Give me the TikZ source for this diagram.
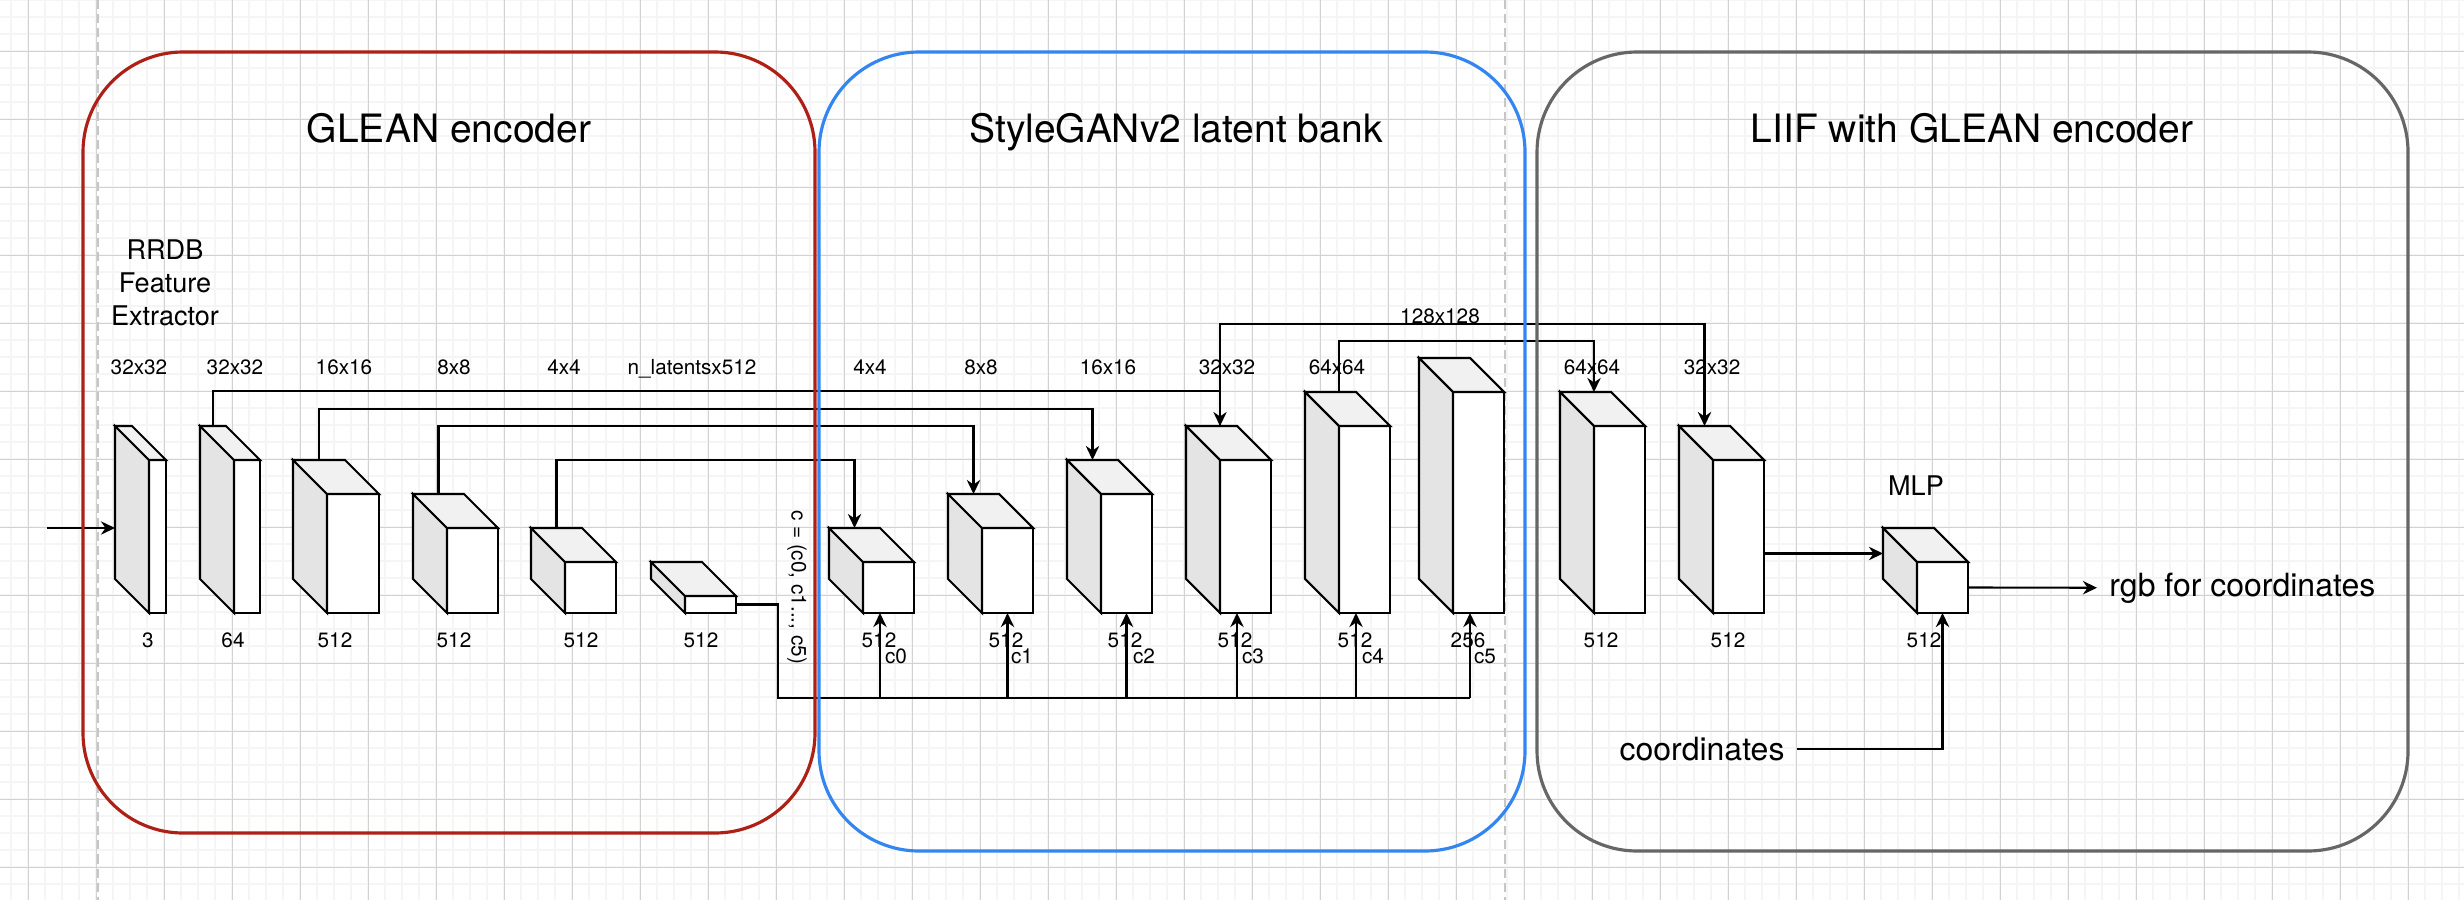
\documentclass[tikz,border=0pt]{standalone}
\usepackage{fontspec}
\setmainfont{TeX Gyre Heros}
\usepackage{xcolor}
\usetikzlibrary{arrows.meta,calc,positioning}
\definecolor{encred}{RGB}{174,32,22}
\definecolor{bankblue}{RGB}{51,133,240}
\definecolor{liifgray}{RGB}{102,102,102}
\definecolor{sidegray}{RGB}{228,228,228}
\definecolor{topgray}{RGB}{241,241,241}
\tikzset{
  gridmin/.style={line width=0.55pt, gray!8},
  gridmaj/.style={line width=0.35pt, gray!35},
  pagebreak/.style={line width=0.5pt, gray!45, dash pattern=on 0.09cm off 0.05cm},
  grp/.style={line width=0.9pt, rounded corners=1cm},
  fmface/.style={draw, fill=white, line width=0.6pt, inner sep=0pt, outer sep=0pt, anchor=south west},
  fmside/.style={draw, fill=sidegray, line width=0.6pt},
  fmtop/.style={draw, fill=topgray, line width=0.6pt},
  wire/.style={line width=0.6pt},
  lbl/.style={font=\fontsize{5.9pt}{7pt}\selectfont, inner sep=0pt, anchor=base},
  ttl/.style={font=\fontsize{11.1pt}{13pt}\selectfont, inner sep=0pt, anchor=base},
  mid/.style={font=\fontsize{7.7pt}{9.3pt}\selectfont, inner sep=0pt},
  big/.style={font=\fontsize{9.1pt}{11pt}\selectfont}
}
% feature map cuboid: name, x of front face, width, height (px, bottom at 613)
\newcommand{\fmap}[4]{
  \node[fmface, minimum width=#3*0.01cm, minimum height=#4*0.01cm] (#1) at (#2,613) {};
  \draw[fmside] (#1.north west) -- (#1.south west) -- ++(-34,-34) -- ([shift={(-34,-34)}]#1.north west) -- cycle;
  \draw[fmtop] (#1.north west) -- ++(-34,-34) -- ([shift={(-34,-34)}]#1.north east) -- (#1.north east) -- cycle;
  \coordinate (#1-t) at ([shift={(-34,-34)}]#1.north);
  \coordinate (#1-s) at ([shift={(-34,-34)}]#1.west);
}

\begin{document}
\begin{tikzpicture}[>={Stealth[length=4pt,width=3.8pt]}, x=0.01cm, y=-0.01cm]
  \useasboundingbox (0,0) rectangle (2464,900);
  \fill[white] (0,0) rectangle (2464,900);
  % background grid
  \foreach \i in {0,...,144} \draw[gridmin] (11.3+17*\i,0) -- (11.3+17*\i,900);
  \foreach \j in {0,...,52} \draw[gridmin] (0,0.3+17*\j) -- (2464,0.3+17*\j);
  \foreach \i in {0,...,36} \draw[gridmaj] (28.3+68*\i,0) -- (28.3+68*\i,900);
  \foreach \j in {0,...,13} \draw[gridmaj] (0,51.3+68*\j) -- (2464,51.3+68*\j);
  \foreach \x in {98,1505} \draw[pagebreak] (\x,0) -- (\x,900);

  % encoder
  \fmap{b1}{149}{17}{153}
  \fmap{b2}{234}{26}{153}
  \fmap{b3}{327}{52}{119}
  \fmap{b4}{447}{51}{85}
  \fmap{b5}{565}{51}{51}
  \fmap{b6}{685}{51}{17}
  % latent bank
  \fmap{c0}{863}{51}{51}
  \fmap{c1}{982}{51}{85}
  \fmap{c2}{1101}{51}{119}
  \fmap{c3}{1220}{51}{153}
  \fmap{c4}{1339}{51}{187}
  \fmap{c5}{1453}{51}{221}
  % liif
  \fmap{l1}{1594}{51}{187}
  \fmap{l2}{1713}{51}{153}
  \fmap{mlp}{1917}{51}{51}

  \coordinate (in) at (47,528);
  \coordinate (bus) at (778,698);
  \coordinate (busend) at ($(c5.south west |- bus)+(17,0)$);
  \node[big, anchor=west] (rgb) at (2097,588) {rgb for coordinates};
  \node[big] (coord) at (1702,749) {coordinates};

  \draw[wire, ->] (in) -- (in -| b1-s);
  \draw[wire, ->] (b2-t) -- ++(0,-35) -| (c3.north west |- c3-t);
  \draw[wire, ->] (b3-t) -- ++(0,-51) -| (c2-t);
  \draw[wire, ->] (b4-t) -- ++(0,-68) -| (c1-t);
  \draw[wire, ->] (b5-t) -- ++(0,-68) -| (c0-t);
  \draw[wire, ->] (c3.north west |- c3-t) -- ++(0,-102) -| (l2-t);
  \draw[wire, ->] (c4.north west |- c4-t) -- ++(0,-51) -| (l1.north west |- l1-t);
  \draw[wire] (b6.east) -| (bus) -- (busend);
  \foreach \n/\d in {c0/17, c1/25.5, c2/25.5, c3/17, c4/17, c5/17}
    \draw[wire, ->] ($(\n.south west |- bus)+(\d,0)$) -- ($(\n.south west)+(\d,0)$);
  \draw[wire, ->] (l2.east |- mlp-s) -- (mlp-s);
  \draw[wire, ->] (mlp.east) -- (rgb);
  \draw[wire, ->] (coord) -| (mlp.south);

  % groups
  \draw[grp, encred] (83,52) rectangle (815,833);
  \draw[grp, bankblue] (819,52) rectangle (1525,851);
  \draw[grp, liifgray] (1537,52) rectangle (2408,851);
  \node[ttl] (t-enc) at (449,142) {GLEAN encoder};
  \node[ttl] (t-bank) at (1176,142) {StyleGANv2 latent bank};
  \node[ttl] (t-liif) at (1972,142) {LIIF with GLEAN encoder};

  % labels
  \node[mid, align=center] (rrdb) at (165,283) {RRDB\\Feature\\Extractor};
  \node[mid, anchor=base] (mlptxt) at (1916,495) {MLP};
  \node[lbl] (res128) at (1440,323) {128x128};
  \node[lbl, rotate=-90, anchor=center] (cvec) at (797,587) {c = (c0, c1..., c5)};
  \foreach \x/\lab [count=\i] in {139/32x32, 235/32x32, 344/16x16, 454/8x8, 564/4x4, 692/n\_latentsx512, 870/4x4, 981/8x8, 1108/16x16, 1227/32x32, 1337/64x64, 1592/64x64, 1712/32x32}
    \node[lbl] (res\i) at (\x,374) {\lab};
  \foreach \x/\lab [count=\i] in {148/3, 233/64, 335/512, 454/512, 581/512, 701/512, 879/512, 1006/512, 1125/512, 1235/512, 1355/512, 1468/256, 1601/512, 1728/512, 1924/512}
    \node[lbl] (ch\i) at (\x,647) {\lab};
  \foreach \x [count=\i from 0] in {896,1022,1144,1253,1373,1485}
    \node[lbl] (cl\i) at (\x,663) {c\i};
\end{tikzpicture}
\end{document}
